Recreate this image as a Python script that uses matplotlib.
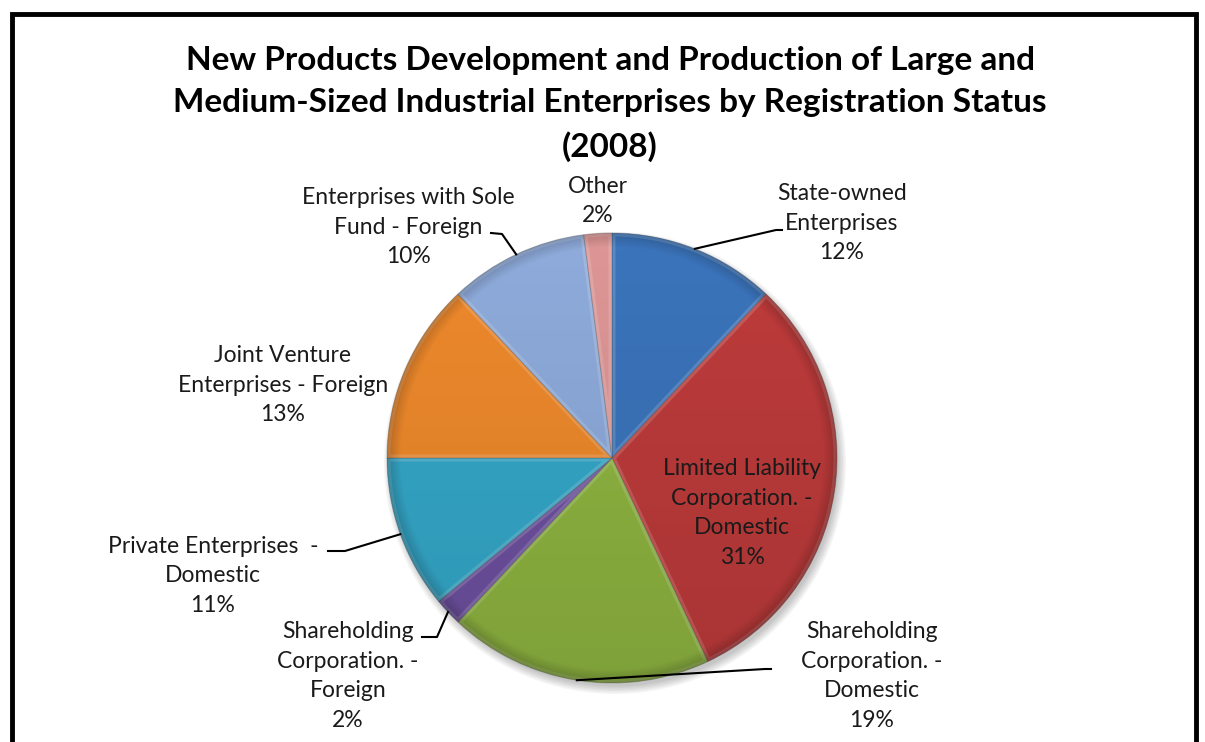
import matplotlib.pyplot as plt
import numpy as np
from matplotlib.patches import Circle, Wedge

plt.rcParams['font.family'] = ['Lato', 'DejaVu Sans']

# slice data (clockwise from 12 o'clock)
names = ['State-owned\nEnterprises',
         'Limited Liability\nCorporation. -\nDomestic',
         'Shareholding\nCorporation. -\nDomestic',
         'Shareholding\nCorporation. -\nForeign',
         'Private Enterprises  -\nDomestic',
         'Joint Venture\nEnterprises - Foreign',
         'Enterprises with Sole\nFund - Foreign',
         'Other']
shares = [12, 31, 19, 2, 11, 13, 10, 2]
colors = ['#3b74bb', '#be3b3b', '#8fb541', '#6e51a0', '#35a8ca', '#ee892c', '#8eabdb', '#dd9695']

title = ('New Products Development and Production of Large and\n'
         'Medium-Sized Industrial Enterprises by Registration Status\n(2008)')

W, H = 1205, 742
cx, cy, R = 612, 458, 225

# label block centres (pixel space) and leader-line elbows
label_pos = [(842, 223), (742, 513), (872, 676), (348, 676),
             (213, 576), (283, 385), (408, 227), (598, 201)]
leaders = {0: [(776, 230), (782, 230)],
           2: [(765, 669), (771, 669)],
           3: [(437, 637), (422, 637)],
           4: [(345, 551), (328, 551)],
           6: [(502, 234), (491, 233)]}

fig = plt.figure(figsize=(W / 100, H / 100), dpi=100)
ax = fig.add_axes([0, 0, 1, 1])

# soft shadow
for k in range(6):
    ax.add_patch(Circle((cx + 3, cy + 5), R + 6 - k * 1.5, color='black',
                        alpha=0.04, lw=0, zorder=0))

# y axis inverted, so angles run the other way
wedges, _ = ax.pie(shares, colors=colors, startangle=-90, counterclock=True,
                   center=(cx, cy), radius=R,
                   wedgeprops=dict(edgecolor=(0, 0, 0, 0.2), linewidth=0.8))
for w in wedges:
    w.set_zorder(2)
    # light bevel along the inside of each slice
    bev = Wedge(w.center, w.r, w.theta1, w.theta2, facecolor='none',
                edgecolor=(1, 1, 1, 0.16), lw=5, zorder=2.5)
    ax.add_patch(bev)
    bev.set_clip_path(w)

# shading over the pie
xs = np.linspace(cx - R, cx + R, 300)
ys = np.linspace(cy - R, cy + R, 300)
X, Y = np.meshgrid(xs, ys)
r = np.hypot(X - cx, Y - cy) / R
a = 0.11 * (Y - (cy - R)) / (2 * R) + 0.18 * np.clip((r - 0.94) / 0.06, 0, 1)
img = np.zeros((300, 300, 4))
img[..., 3] = np.clip(a, 0, 1)
clip = Circle((cx, cy), R, transform=ax.transData)
im = ax.imshow(img, extent=(cx - R, cx + R, cy + R, cy - R), zorder=3,
               interpolation='bilinear')
im.set_clip_path(clip)

ax.set_xlim(0, W)
ax.set_ylim(H, 0)
ax.set_aspect('equal')
ax.axis('off')

# labels and leader lines
cum = np.cumsum([0] + shares[:-1])
for i, (nm, v) in enumerate(zip(names, shares)):
    x, y = label_pos[i]
    ax.text(x, y, f'{nm}\n{v}%', ha='center', va='center', multialignment='center',
            fontsize=16.5, linespacing=1.5, color='#1a1a1a', zorder=5)
    if i in leaders:
        ang = np.deg2rad(90 - (cum[i] + v / 2) / 100 * 360)
        px, py = cx + R * np.cos(ang), cy - R * np.sin(ang)
        pts = [(px, py)] + leaders[i]
        ax.plot([p[0] for p in pts], [p[1] for p in pts], color='black', lw=1.5, zorder=4)

ax.text(610, 104, title, ha='center', va='center', fontsize=24, fontweight='bold',
        linespacing=1.55, color='black')

# chart frame
ax.plot([12, 12, 1196, 1196], [H, 14, 14, H], color='black', lw=3.5, solid_joinstyle='miter')

fig.savefig('out.png', dpi=100)
